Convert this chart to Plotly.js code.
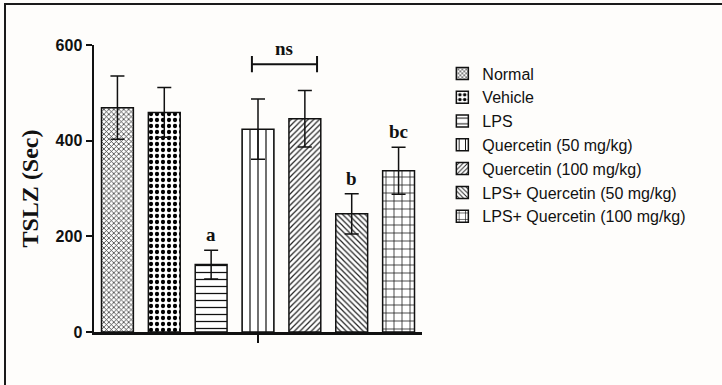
<!DOCTYPE html>
<html>
<head>
<meta charset="utf-8">
<script src="https://cdn.plot.ly/plotly-3.0.1.min.js"></script>
<style>
  html, body { margin: 0; padding: 0; background: #fefdfb; }
  #wrap { position: relative; width: 722px; height: 385px; overflow: hidden; }
  #chart { width: 722px; height: 385px; }
  #frame { position: absolute; left: 4px; top: 3px; width: 730px; height: 400px;
           border-left: 2px solid #1a1a1a; border-top: 2px solid #1a1a1a; pointer-events: none; }
</style>
</head>
<body>
<div id="wrap">
  <div id="chart"></div>
  <div id="frame"></div>
</div>
<script>
const categories = ['Normal', 'Vehicle', 'LPS', 'Quercetin (50 mg/kg)', 'Quercetin (100 mg/kg)',
                    'LPS+ Quercetin (50 mg/kg)', 'LPS+ Quercetin (100 mg/kg)'];
const means = [469, 459, 141, 424, 446, 247, 337];
const errors = [66, 52, 30, 63, 59, 42, 49];
const letters = ['', '', 'a', '', '', 'b', 'bc'];
const yTicks = [0, 200, 400, 600];
const nsLabel = 'ns';
const nsFrom = 2.87, nsTo = 4.26, nsLevel = 560;

const patterns = [
  {shape: 'x', size: 3.5, solidity: 0.4, fgcolor: '#333'},
  {shape: '.', size: 6, solidity: 0.4, fgcolor: '#000'},
  {shape: '-', size: 7, solidity: 0.18, fgcolor: '#111'},
  {shape: '|', size: 8, solidity: 0.15, fgcolor: '#111'},
  {shape: '/', size: 4, solidity: 0.3, fgcolor: '#222'},
  {shape: '\\', size: 4, solidity: 0.3, fgcolor: '#222'},
  {shape: '+', size: 8, solidity: 0.18, fgcolor: '#111'}
];

const traces = categories.map((c, i) => ({
  type: 'bar',
  name: c,
  x: [c],
  y: [means[i]],
  width: 0.68,
  marker: {
    color: '#ffffff',
    line: {color: '#111', width: 1.5},
    pattern: Object.assign({bgcolor: '#ffffff', fillmode: 'replace'}, patterns[i])
  },
  error_y: {type: 'data', array: [errors[i]], visible: true, color: '#111', thickness: 1.5, width: 7}
}));

const annotations = categories.map((c, i) => letters[i] ? ({
  x: c, y: means[i] + errors[i], xref: 'x', yref: 'y', text: letters[i], showarrow: false,
  yanchor: 'bottom', yshift: 3,
  font: {family: 'Liberation Serif, Times New Roman, serif', size: 19, color: '#111', weight: 'bold'}
}) : null).filter(a => a);
annotations.push({
  x: (nsFrom + nsTo) / 2, y: nsLevel, xref: 'x', yref: 'y', text: nsLabel, showarrow: false,
  yanchor: 'bottom', yshift: 3,
  font: {family: 'Liberation Serif, Times New Roman, serif', size: 19, color: '#111', weight: 'bold'}
});

const shapes = [
  {type: 'line', xref: 'x', yref: 'y', x0: nsFrom, x1: nsTo, y0: nsLevel, y1: nsLevel, line: {color: '#111', width: 2}},
  {type: 'line', xref: 'x', yref: 'y', x0: nsFrom, x1: nsFrom, y0: nsLevel - 17, y1: nsLevel + 17, line: {color: '#111', width: 2}},
  {type: 'line', xref: 'x', yref: 'y', x0: nsTo, x1: nsTo, y0: nsLevel - 17, y1: nsLevel + 17, line: {color: '#111', width: 2}}
];

const layout = {
  width: 722, height: 385,
  margin: {l: 94, r: 300, t: 45, b: 53, pad: 0},
  paper_bgcolor: '#fefdfb', plot_bgcolor: '#fefdfb',
  barmode: 'overlay',
  showlegend: true,
  legend: {
    x: 1.062, xanchor: 'left', y: 0.96, yanchor: 'top',
    font: {family: 'Liberation Sans, Arial, sans-serif', size: 16, color: '#111'},
    bgcolor: 'rgba(0,0,0,0)', traceorder: 'normal', itemclick: false
  },
  xaxis: {
    type: 'category', categoryorder: 'array', categoryarray: categories,
    range: [-0.5, 6.5], showgrid: false, zeroline: false,
    showline: true, linecolor: '#111', linewidth: 2.5,
    tickmode: 'array', tickvals: [categories[3]], ticktext: [''],
    ticks: 'outside', ticklen: 8, tickwidth: 2, tickcolor: '#111', showticklabels: false
  },
  yaxis: {
    range: [0, 600], showgrid: false, zeroline: false,
    showline: true, linecolor: '#111', linewidth: 2.5,
    tickmode: 'array', tickvals: yTicks, ticktext: yTicks.map(String),
    ticks: 'outside', ticklen: 6, tickwidth: 2, tickcolor: '#111',
    tickfont: {family: 'Liberation Sans, Arial, sans-serif', size: 16, color: '#111', weight: 'bold'},
    title: {text: 'TSLZ (Sec)', standoff: 10,
            font: {family: 'Liberation Serif, Times New Roman, serif', size: 24, color: '#111', weight: 'bold'}}
  },
  annotations: annotations,
  shapes: shapes
};

Plotly.newPlot('chart', traces, layout, {displayModeBar: false, staticPlot: true});
</script>
</body>
</html>
